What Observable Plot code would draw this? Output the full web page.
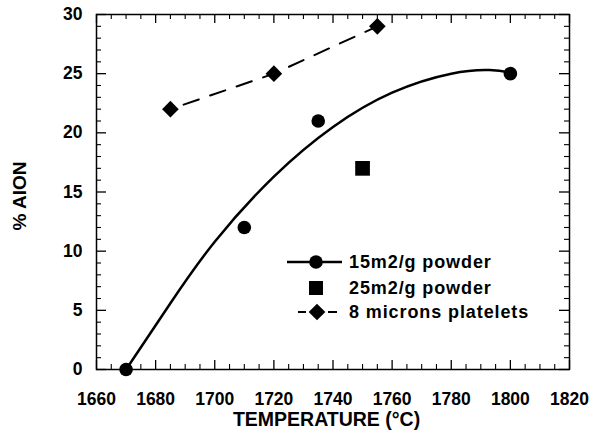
<!DOCTYPE html>
<html><head><meta charset="utf-8">
<script src="https://cdn.jsdelivr.net/npm/d3@7"></script>
<script src="https://cdn.jsdelivr.net/npm/@observablehq/plot@0.6"></script>
<style>
body{margin:0;background:#fff}
svg{font-family:"Liberation Sans",Arial,Helvetica,sans-serif}
</style>
</head><body><div id="chart"></div>
<script>
// ---- data ----
const powder15T = [1670, 1710, 1735, 1800];
const powder15V = [0, 12, 21, 25];
const powder25T = [1750];
const powder25V = [17];
const plateletT = [1685, 1720, 1755];
const plateletV = [22, 25, 29];
// fitted curve for 15m2/g powder
const fitT = [1670, 1685, 1700, 1720, 1740, 1760, 1780, 1793, 1800];
const fitV = [0, 5.6, 10.8, 16.3, 20.5, 23.4, 25.0, 25.3, 25.1];
const xMajor = [1660, 1680, 1700, 1720, 1740, 1760, 1780, 1800, 1820];
const xMinor = d3.range(1660, 1821, 5).filter(v => v % 20 !== 0);
const yMajor = [0, 5, 10, 15, 20, 25, 30];
const yMinor = d3.range(0, 31, 1).filter(v => v % 5 !== 0);
const xTitle = "TEMPERATURE (°C)";
const yTitle = "% AlON";
const legendLabels = ["15m2/g powder", "25m2/g powder", "8 microns platelets"];

const toRows = (xs, ys) => xs.map((x, i) => ({x, y: ys[i]}));
const p15 = toRows(powder15T, powder15V);
const p25 = toRows(powder25T, powder25V);
const plat = toRows(plateletT, plateletV);
const fit = toRows(fitT, fitV);

const W = 591, H = 440, mL = 96, mR = 22, mT = 14, mB = 71;
const iw = W - mL - mR, ih = H - mT - mB;
const font = {fontFamily: '"Liberation Sans",Arial,sans-serif', fontWeight: "bold", fill: "black"};

const plot = Plot.plot({
  width: W, height: H,
  marginLeft: mL, marginRight: mR, marginTop: mT, marginBottom: mB,
  x: {domain: [1660, 1820], axis: null},
  y: {domain: [0, 30], axis: null},
  marks: [
    // inward ticks on all four sides
    Plot.tickX(xMajor, {x: d => d, insetTop: ih - 9, stroke: "black", strokeWidth: 1.3}),
    Plot.tickX(xMinor, {x: d => d, insetTop: ih - 5, stroke: "black", strokeWidth: 1.1}),
    Plot.tickX(xMajor, {x: d => d, insetBottom: ih - 9, stroke: "black", strokeWidth: 1.3}),
    Plot.tickX(xMinor, {x: d => d, insetBottom: ih - 5, stroke: "black", strokeWidth: 1.1}),
    Plot.tickY(yMajor, {y: d => d, insetRight: iw - 10, stroke: "black", strokeWidth: 1.3}),
    Plot.tickY(yMinor, {y: d => d, insetRight: iw - 5, stroke: "black", strokeWidth: 1.1}),
    Plot.tickY(yMajor, {y: d => d, insetLeft: iw - 10, stroke: "black", strokeWidth: 1.3}),
    Plot.tickY(yMinor, {y: d => d, insetLeft: iw - 5, stroke: "black", strokeWidth: 1.1}),
    Plot.frame({stroke: "black", strokeWidth: 1.5}),
    // tick labels
    Plot.text(xMajor, {x: d => d, text: d => String(d), frameAnchor: "bottom", lineAnchor: "bottom", textAnchor: "middle", dy: 35, fontSize: 17.5, ...font}),
    Plot.text(yMajor, {y: d => d, text: d => String(d), frameAnchor: "left", textAnchor: "end", dx: -14, fontSize: 17.5, ...font}),
    // axis titles
    Plot.text([xTitle], {text: d => d, frameAnchor: "bottom", lineAnchor: "bottom", textAnchor: "middle", dy: 56, dx: -6.5, fontSize: 19.5, ...font}),
    Plot.text([yTitle], {text: d => d, frameAnchor: "left", textAnchor: "middle", rotate: -90, dx: -77, dy: 4, fontSize: 19, ...font, style: "letter-spacing:1.5px"}),
    // series
    Plot.line(fit, {x: "x", y: "y", curve: "natural", stroke: "black", strokeWidth: 2.5}),
    Plot.line(plat, {x: "x", y: "y", stroke: "black", strokeWidth: 2, strokeDasharray: "16,12", strokeDashoffset: 14}),
    Plot.dot(p15, {x: "x", y: "y", r: 6.8, fill: "black", symbol: "circle"}),
    Plot.dot(p25, {x: "x", y: "y", r: 8.3, fill: "black", symbol: "square"}),
    Plot.dot(plat, {x: "x", y: "y", r: 7.5, fill: "black", symbol: "diamond2"})
  ]
});

// legend drawn inside the plot area
const svg = d3.select(plot);
const lg = svg.append("g").attr("text-anchor", "start");
const rowsY = [262, 288, 312];
const mx = 316, tx = 349;
lg.append("line").attr("x1", 287).attr("x2", 342).attr("y1", rowsY[0]).attr("y2", rowsY[0]).attr("stroke", "black").attr("stroke-width", 2.5);
lg.append("circle").attr("cx", mx).attr("cy", rowsY[0]).attr("r", 6.8).attr("fill", "black");
lg.append("rect").attr("x", mx - 7).attr("y", rowsY[1] - 7).attr("width", 14).attr("height", 14).attr("fill", "black");
lg.append("line").attr("x1", 298).attr("x2", 306).attr("y1", rowsY[2]).attr("y2", rowsY[2]).attr("stroke", "black").attr("stroke-width", 2);
lg.append("line").attr("x1", 328).attr("x2", 337).attr("y1", rowsY[2]).attr("y2", rowsY[2]).attr("stroke", "black").attr("stroke-width", 2);
lg.append("path").attr("d", d3.symbol(d3.symbolDiamond2, Math.PI * 7.5 * 7.5)()).attr("transform", `translate(${mx + 1},${rowsY[2]})`).attr("fill", "black");
legendLabels.forEach((t, i) => {
  lg.append("text").attr("x", tx).attr("y", rowsY[i]).attr("dy", "0.36em")
    .attr("text-anchor", "start")
    .attr("font-size", 18).attr("font-weight", "bold").attr("letter-spacing", "0.9px")
    .attr("fill", "black").text(t);
});

document.getElementById("chart").appendChild(plot);
</script>
</body></html>
